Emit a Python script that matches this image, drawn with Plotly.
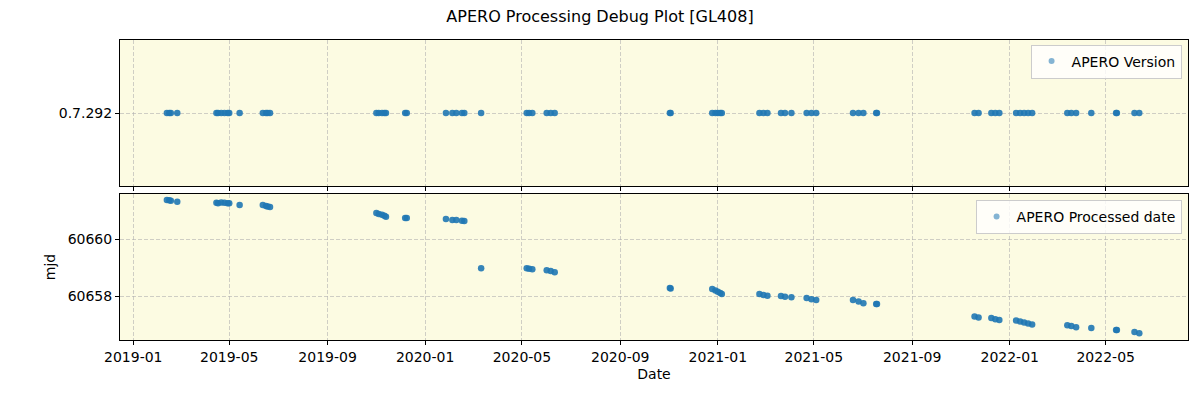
import plotly.graph_objects as go
from plotly.subplots import make_subplots

# ---- data ----
dates = [
    "2019-02-12", "2019-02-15", "2019-02-17", "2019-02-25",
    "2019-04-15", "2019-04-17", "2019-04-21", "2019-04-25", "2019-04-29", "2019-05-01",
    "2019-05-14",
    "2019-06-12", "2019-06-16", "2019-06-18", "2019-06-21",
    "2019-11-01", "2019-11-04", "2019-11-08", "2019-11-11", "2019-11-13",
    "2019-12-07", "2019-12-09",
    "2020-01-27", "2020-02-04", "2020-02-09", "2020-02-16", "2020-02-19",
    "2020-03-11",
    "2020-05-07", "2020-05-10", "2020-05-14",
    "2020-06-01", "2020-06-06", "2020-06-11",
    "2020-11-02", "2020-11-03",
    "2020-12-25", "2020-12-29", "2021-01-01", "2021-01-04", "2021-01-06",
    "2021-02-22", "2021-02-27", "2021-03-04",
    "2021-03-21", "2021-03-26", "2021-04-03",
    "2021-04-22", "2021-04-28", "2021-05-04",
    "2021-06-19", "2021-06-26", "2021-07-02",
    "2021-07-18", "2021-07-19",
    "2021-11-18", "2021-11-23",
    "2021-12-09", "2021-12-14", "2021-12-19",
    "2022-01-09", "2022-01-14", "2022-01-19", "2022-01-24", "2022-01-29",
    "2022-03-14", "2022-03-19", "2022-03-25",
    "2022-04-13",
    "2022-05-14", "2022-05-15",
    "2022-06-06", "2022-06-12",
]
processed_mjd = [
    60661.37, 60661.36, 60661.34, 60661.31,
    60661.27, 60661.26, 60661.28, 60661.27, 60661.26, 60661.26,
    60661.19,
    60661.19, 60661.16, 60661.14, 60661.12,
    60660.91, 60660.88, 60660.85, 60660.82, 60660.78,
    60660.74, 60660.74,
    60660.70, 60660.67, 60660.67, 60660.64, 60660.63,
    60658.98,
    60658.98, 60658.96, 60658.94,
    60658.91, 60658.88, 60658.84,
    60658.28, 60658.27,
    60658.25, 60658.20, 60658.15, 60658.11, 60658.07,
    60658.07, 60658.04, 60658.01,
    60658.00, 60657.98, 60657.96,
    60657.93, 60657.89, 60657.86,
    60657.86, 60657.81, 60657.75,
    60657.72, 60657.72,
    60657.28, 60657.25,
    60657.23, 60657.19, 60657.16,
    60657.14, 60657.11, 60657.07, 60657.04, 60657.00,
    60656.98, 60656.95, 60656.91,
    60656.88,
    60656.81, 60656.81,
    60656.74, 60656.70,
]
apero_version = ["0.7.292"] * len(dates)

BLUE = "#1f77b4"
BG = "#FCFBE2"
GRID = "rgba(176,176,176,0.6)"
FONT = "DejaVu Sans"
FS = 14

fig = make_subplots(rows=2, cols=1, shared_xaxes=True, vertical_spacing=8 / 300)

fig.add_trace(go.Scatter(x=dates, y=apero_version, mode="markers",
                         marker=dict(color=BLUE, size=6.5, opacity=0.9),
                         showlegend=False), row=1, col=1)
fig.add_trace(go.Scatter(x=dates, y=processed_mjd, mode="markers",
                         marker=dict(color=BLUE, size=6.5, opacity=0.9),
                         showlegend=False), row=2, col=1)
# legend entries
fig.add_trace(go.Scatter(x=[None], y=[None], mode="markers", name="APERO Version",
                         marker=dict(color=BLUE, size=6, opacity=0.55),
                         legend="legend"), row=2, col=1)
fig.add_trace(go.Scatter(x=[None], y=[None], mode="markers", name="APERO Processed date",
                         marker=dict(color=BLUE, size=6, opacity=0.55),
                         legend="legend2"), row=2, col=1)

xrange = ["2018-12-15 10:00", "2022-08-11 22:00"]
axis_common = dict(showline=True, linecolor="black", linewidth=1, mirror=True,
                   ticks="outside", ticklen=4, tickcolor="black",
                   showgrid=True, gridcolor=GRID, griddash="4px,2px", gridwidth=1,
                   zeroline=False, tickfont=dict(size=FS, color="black", family=FONT))

fig.update_xaxes(range=xrange, tick0="2019-01-01", dtick="M4", tickformat="%Y-%m",
                 **axis_common)
fig.update_xaxes(showticklabels=False, row=1, col=1)
fig.update_xaxes(title=dict(text="Date", font=dict(size=FS, family=FONT, color="black"),
                            standoff=5), row=2, col=1)

fig.update_yaxes(type="category", range=[-1, 1], row=1, col=1, **axis_common)
fig.update_yaxes(range=[60656.46, 60661.58], tick0=60658, dtick=2, tickformat="d",
                 title=dict(text="mjd", font=dict(size=FS, family=FONT, color="black"),
                            standoff=8),
                 row=2, col=1, **axis_common)

fig.update_layout(
    width=1184, height=384,
    margin=dict(l=112, r=4, t=32, b=52),
    paper_bgcolor="white", plot_bgcolor=BG,
    font=dict(family=FONT, size=FS, color="black"),
    title=dict(text="APERO Processing Debug Plot [GL408]", x=0.5, xanchor="center",
               y=1 - 3 / 384, yanchor="top", font=dict(size=16, family=FONT)),
    legend=dict(x=0.994, y=0.985, xanchor="right", yanchor="top",
                bgcolor="rgba(255,255,255,0.8)", bordercolor="#cccccc", borderwidth=1,
                font=dict(size=FS, family=FONT)),
    legend2=dict(x=0.994, y=0.467, xanchor="right", yanchor="top",
                 bgcolor="rgba(255,255,255,0.8)", bordercolor="#cccccc", borderwidth=1,
                 font=dict(size=FS, family=FONT)),
)

fig.write_html("out.html")
